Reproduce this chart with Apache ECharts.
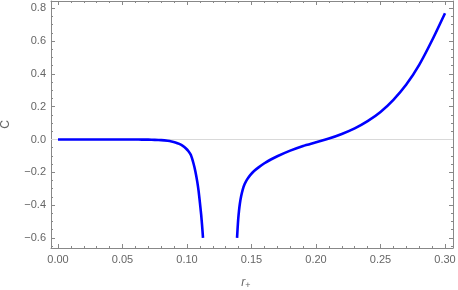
<!DOCTYPE html>
<html><head><meta charset="utf-8">
<script src="https://cdn.jsdelivr.net/npm/echarts@6/dist/echarts.min.js"></script>
<style>html,body{margin:0;padding:0;background:#fff}#c{width:458px;height:290px}</style>
</head><body><div id="c"></div>
<script>
// Data
const leftR = [0, 0.01, 0.02, 0.03, 0.04, 0.05, 0.06, 0.065, 0.07, 0.075, 0.08, 0.085, 0.088, 0.091, 0.094, 0.097, 0.099, 0.101, 0.103, 0.105, 0.1065, 0.108, 0.109, 0.11, 0.111, 0.1117, 0.1124];
const leftC = [0, 0, 0, 0, 0, 0, -0.0003, -0.0006, -0.001, -0.002, -0.004, -0.008, -0.012, -0.018, -0.027, -0.04, -0.053, -0.07, -0.095, -0.145, -0.195, -0.26, -0.315, -0.385, -0.46, -0.525, -0.60];
const rightR = [0.1388, 0.1392, 0.1397, 0.1403, 0.141, 0.142, 0.1432, 0.1447, 0.1465, 0.149, 0.152, 0.1555, 0.16, 0.165, 0.17, 0.18, 0.19, 0.20, 0.21, 0.22, 0.23, 0.24, 0.25, 0.26, 0.27, 0.28, 0.29, 0.30];
const rightC = [-0.60, -0.545, -0.485, -0.435, -0.39, -0.345, -0.305, -0.272, -0.245, -0.217, -0.192, -0.17, -0.145, -0.122, -0.102, -0.068, -0.039, -0.017, 0.006, 0.034, 0.068, 0.112, 0.168, 0.242, 0.335, 0.455, 0.605, 0.77];
const xMajor = [0, 0.05, 0.10, 0.15, 0.20, 0.25, 0.30];
const yMajor = [-0.6, -0.4, -0.2, 0.0, 0.2, 0.4, 0.6, 0.8];
const xMinor = [];
for (let i = 0; i <= 30; i++) if (i % 5) xMinor.push(i / 100);
const yMinor = [];
for (let i = -13; i <= 16; i++) if (i % 4) yMinor.push(i * 0.05);

const X_MIN = -0.00543, X_MAX = 0.3062, Y_MIN = -0.6616, Y_MAX = 0.8445;
const FRAME = '#888';
const LBL = '#666';
const FONT = 'Liberation Sans';

function xa(pos, ticks, len, labels, showLine, extra) {
  return Object.assign({
    type: 'value', position: pos, min: X_MIN, max: X_MAX,
    axisLine: {show: showLine, onZero: false, lineStyle: {color: FRAME, width: 1}},
    axisTick: {show: true, inside: true, length: len, customValues: ticks, lineStyle: {color: FRAME}},
    axisLabel: labels ? {show: true, customValues: ticks, margin: 6, color: LBL, fontSize: 11, fontFamily: FONT,
      formatter: v => v.toFixed(2)} : {show: false},
    splitLine: {show: false}
  }, extra || {});
}
function ya(pos, ticks, len, labels, showLine, extra) {
  return Object.assign({
    type: 'value', position: pos, min: Y_MIN, max: Y_MAX,
    axisLine: {show: showLine, onZero: false, lineStyle: {color: FRAME, width: 1}},
    axisTick: {show: true, inside: true, length: len, customValues: ticks, lineStyle: {color: FRAME}},
    axisLabel: labels ? {show: true, customValues: ticks, margin: 5, color: LBL, fontSize: 11, fontFamily: FONT,
      formatter: v => (v < -1e-9 ? '\u2212' : '') + Math.abs(v).toFixed(1)} : {show: false},
    splitLine: {show: false}
  }, extra || {});
}

const chart = echarts.init(document.getElementById('c'), null, {renderer: 'canvas'});
chart.setOption({
  animation: false,
  backgroundColor: '#fff',
  grid: {left: 51, top: 1, width: 402, height: 247, containLabel: false, outerBoundsMode: 'none'},
  xAxis: [
    xa('bottom', xMajor, 4, true, true, {
      name: '{r|r}{s|+}', nameLocation: 'middle', nameGap: 27,
      nameTextStyle: {padding: [0, 12, 0, 0], rich: {
        r: {fontStyle: 'italic', fontSize: 12, color: LBL, fontFamily: FONT},
        s: {fontSize: 9, color: LBL, fontFamily: FONT, verticalAlign: 'bottom', padding: [6, 0, 0, 0]}
      }}
    }),
    xa('bottom', xMinor, 2, false, false),
    xa('top', xMajor, 4, false, true),
    xa('top', xMinor, 2, false, false)
  ],
  yAxis: [
    ya('left', yMajor, 4, true, true, {
      name: 'C', nameLocation: 'middle', nameGap: 39, nameRotate: 90,
      nameTextStyle: {color: LBL, fontSize: 12, fontFamily: FONT}
    }),
    ya('left', yMinor, 2, false, false),
    ya('right', yMajor, 4, false, true),
    ya('right', yMinor, 2, false, false)
  ],
  series: [
    {
      type: 'line', xAxisIndex: 0, yAxisIndex: 0, symbol: 'none',
      data: leftR.map((r, i) => [r, leftC[i]]),
      smooth: 0.2,
      lineStyle: {color: '#0000ff', width: 2.6, cap: 'butt'},
      markLine: {silent: true, symbol: 'none', label: {show: false},
        lineStyle: {color: '#d9d9d9', width: 1, type: 'solid'}, data: [{yAxis: 0}], z: 1},
      z: 3
    },
    {
      type: 'line', xAxisIndex: 0, yAxisIndex: 0, symbol: 'none',
      data: rightR.map((r, i) => [r, rightC[i]]),
      smooth: 0.2,
      lineStyle: {color: '#0000ff', width: 2.6, cap: 'butt'},
      z: 3
    }
  ]
});
</script></body></html>
